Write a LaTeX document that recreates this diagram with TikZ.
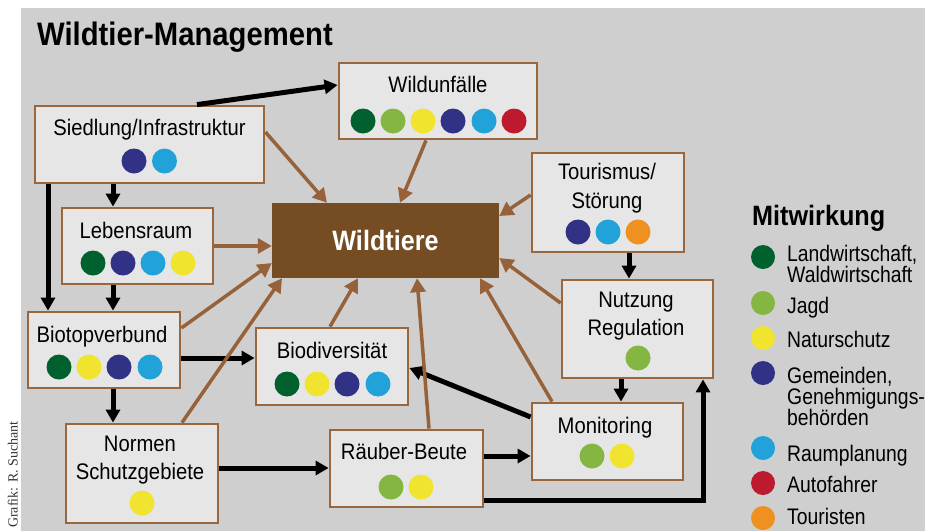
\documentclass[tikz,border=0pt]{standalone}
\usepackage{fontspec}
\setmainfont{Liberation Sans}
\newfontfamily\condfont[FakeStretch=0.9]{Liberation Sans}
\newfontfamily\legfont[FakeStretch=0.86]{Liberation Sans}
\newfontfamily\creditfont{Liberation Serif}
\usetikzlibrary{arrows.meta}

\definecolor{bggray}{HTML}{CFCFCF}
\definecolor{boxfill}{HTML}{E6E6E6}
\definecolor{boxedge}{HTML}{99673D}
\definecolor{corebrown}{HTML}{764C23}
\definecolor{linkbrown}{HTML}{97623A}
\definecolor{cLand}{HTML}{00612F}
\definecolor{cJagd}{HTML}{85B642}
\definecolor{cNatur}{HTML}{F1E42E}
\definecolor{cGem}{HTML}{313186}
\definecolor{cRaum}{HTML}{21A2D8}
\definecolor{cAuto}{HTML}{BE1A2E}
\definecolor{cTour}{HTML}{EE9120}

\tikzset{
  box/.style={draw=boxedge, line width=2.8pt, fill=boxfill, inner sep=0pt},
  core/.style={fill=corebrown, inner sep=0pt},
  lbl/.style={anchor=base, inner sep=0pt, font=\condfont\fontsize{22.5}{27}\selectfont},
  % multi-line entries sit on the baseline of their last line
  legtext/.style={anchor=base west, inner sep=0pt, align=left,
    font=\legfont\fontsize{22.5}{21}\selectfont},
  pdot/.style={circle, inner sep=0pt, minimum size=25pt},
  ldot/.style={circle, inner sep=0pt, minimum size=24pt},
  flow/.style={draw=black, line width=5pt, -{Triangle[length=13pt,width=14pt]}},
  effect/.style={draw=linkbrown, line width=3.5pt, -{Triangle[length=14pt,width=15pt]}}
}

% one coloured participation dot
\newcommand\putdot[4]{\node[pdot, fill=#4] (#1) at (#2,#3) {};}

\begin{document}
\begin{tikzpicture}[x=1pt,y=-1pt]
\useasboundingbox (0,0) rectangle (925,531);
\fill[white] (0,0) rectangle (925,531);
\fill[bggray] (21,8) rectangle (925,531);

% heading and credit
\node[anchor=base west, inner sep=0pt, font=\condfont\bfseries\fontsize{32.5}{36}\selectfont] (title) at (37,45) {Wildtier-Management};
\node[rotate=90, anchor=base west, inner sep=0pt, font=\creditfont\fontsize{14}{16}\selectfont, text=black!80] (credit) at (17.5,528) {Grafik: R. Suchant};

% boxes
\node[box, minimum width=229pt, minimum height=77pt] (sied) at (149.5,144.5) {};
\node[box, minimum width=198pt, minimum height=76pt] (unf)  at (438,101) {};
\node[box, minimum width=151pt, minimum height=76pt] (leb)  at (137.5,246) {};
\node[box, minimum width=152pt, minimum height=76pt] (bio)  at (104,350) {};
\node[box, minimum width=152pt, minimum height=99pt] (norm) at (142,473.5) {};
\node[box, minimum width=152pt, minimum height=99pt] (tour) at (608,202.5) {};
\node[box, minimum width=151pt, minimum height=98pt] (nutz) at (637.5,329) {};
\node[box, minimum width=151pt, minimum height=77pt] (mon)  at (607.5,441.5) {};
\node[box, minimum width=153pt, minimum height=77pt] (raub) at (406.5,468.5) {};
\node[box, minimum width=152pt, minimum height=77pt] (div)  at (332,366.5) {};
\node[core, minimum width=227pt, minimum height=75pt] (wild) at (385.5,240.5) {};

% box labels
\node[lbl] (sied-t) at (149.5,135) {Siedlung/Infrastruktur};
\node[lbl] (unf-t) at (438,92) {Wildunfälle};
\node[lbl] (leb-t) at (136,238) {Lebensraum};
\node[lbl] (bio-t) at (102,342) {Biotopverbund};
\node[lbl] (norm-t1) at (140,451) {Normen};
\node[lbl] (norm-t2) at (140,479) {Schutzgebiete};
\node[lbl] (tour-t1) at (607,179) {Tourismus/};
\node[lbl] (tour-t2) at (607,208) {Störung};
\node[lbl] (nutz-t1) at (636,307) {Nutzung};
\node[lbl] (nutz-t2) at (636,335) {Regulation};
\node[lbl] (mon-t) at (605,433) {Monitoring};
\node[lbl] (raub-t) at (404,459) {Räuber-Beute};
\node[lbl] (div-t) at (332,358) {Biodiversität};
\node[anchor=base, inner sep=0pt, text=white, font=\condfont\bfseries\fontsize{28}{32}\selectfont] (wild-t) at (385.5,250) {Wildtiere};

% participation dots
\putdot{sied-d1}{134}{161}{cGem}
\putdot{sied-d2}{164.5}{161}{cRaum}
\putdot{unf-d1}{363}{121}{cLand}
\putdot{unf-d2}{393}{121}{cJagd}
\putdot{unf-d3}{423}{121}{cNatur}
\putdot{unf-d4}{453}{121}{cGem}
\putdot{unf-d5}{484}{121}{cRaum}
\putdot{unf-d6}{514}{121}{cAuto}
\putdot{leb-d1}{93}{263}{cLand}
\putdot{leb-d2}{123}{263}{cGem}
\putdot{leb-d3}{153}{263}{cRaum}
\putdot{leb-d4}{183}{263}{cNatur}
\putdot{bio-d1}{59}{367}{cLand}
\putdot{bio-d2}{89}{367}{cNatur}
\putdot{bio-d3}{119}{367}{cGem}
\putdot{bio-d4}{150}{367}{cRaum}
\putdot{norm-d1}{142}{503}{cNatur}
\putdot{tour-d1}{578}{232}{cGem}
\putdot{tour-d2}{608}{232}{cRaum}
\putdot{tour-d3}{638}{232}{cTour}
\putdot{nutz-d1}{638}{358}{cJagd}
\putdot{mon-d1}{592}{456}{cJagd}
\putdot{mon-d2}{622}{456}{cNatur}
\putdot{raub-d1}{391}{487}{cJagd}
\putdot{raub-d2}{421}{487}{cNatur}
\putdot{div-d1}{287}{384}{cLand}
\putdot{div-d2}{317}{384}{cNatur}
\putdot{div-d3}{347}{384}{cGem}
\putdot{div-d4}{378}{384}{cRaum}

% black flows between the fields
\draw[flow] ([xshift=47.5pt]sied.north) -- ([yshift=16pt]unf.west);
\draw[flow] ([xshift=-24.5pt]leb.north |- sied.south) -- ([xshift=-24.5pt]leb.north);
\draw[flow] ([xshift=-56pt]bio.north |- sied.south) -- ([xshift=-56pt]bio.north);
\draw[flow] ([xshift=-24.5pt]leb.south) -- ([xshift=-24.5pt]leb.south |- bio.north);
\draw[flow] ([yshift=-8pt]bio.east) -- ([yshift=-8pt]bio.east -| div.west);
\draw[flow] ([xshift=9pt]bio.south) -- ([xshift=9pt]bio.south |- norm.north);
\draw[flow] ([yshift=5.5pt]norm.east) -- ([yshift=5.5pt]norm.east -| raub.west);
\draw[flow] ([yshift=12.5pt]raub.east) -- ([yshift=12.5pt]raub.east -| mon.west);
\draw[flow] ([yshift=24.5pt]mon.west) -- ([yshift=-1.5pt]div.east);
\draw[flow] ([xshift=-16.5pt]nutz.south) -- ([xshift=-16.5pt]nutz.south |- mon.north);
\draw[flow] ([xshift=21pt]tour.south) -- ([xshift=21pt]tour.south |- nutz.north);
\draw[flow] ([yshift=-31.5pt]raub.east) -| ([xshift=65.5pt]nutz.south);

% brown influences on the wildlife
\draw[effect] ([yshift=12.5pt]sied.east) -- ([xshift=-58.5pt]wild.north);
\draw[effect] ([xshift=-12pt]unf.south) -- ([xshift=14.5pt]wild.north);
\draw[effect] ([yshift=7.5pt]tour.west) -- ([yshift=24.5pt]wild.east);
\draw[effect] (leb.east) -- (leb.east -| wild.west);
\draw[effect] ([yshift=22pt]bio.east) -- ([yshift=-22.5pt]wild.west);
\draw[effect] ([xshift=40pt]norm.north) -- ([xshift=-103.5pt]wild.south);
\draw[effect] ([xshift=-2pt]div.north) -- ([xshift=-27.5pt]wild.south);
\draw[effect] ([xshift=22.5pt]raub.north) -- ([xshift=31.5pt]wild.south);
\draw[effect] ([xshift=-55.5pt]mon.north) -- ([xshift=94.5pt]wild.south);
\draw[effect] ([yshift=26pt]nutz.west) -- ([yshift=-17.5pt]wild.east);

% legend
\node[anchor=base west, inner sep=0pt, font=\condfont\bfseries\fontsize{28}{32}\selectfont] (leg-title) at (752,225) {Mitwirkung};
\node[ldot, fill=cLand]  (leg-d1) at (763,257) {};
\node[ldot, fill=cJagd]  (leg-d2) at (763,303) {};
\node[ldot, fill=cNatur] (leg-d3) at (763,338) {};
\node[ldot, fill=cGem]   (leg-d4) at (763,373) {};
\node[ldot, fill=cRaum]  (leg-d5) at (763,448) {};
\node[ldot, fill=cAuto]  (leg-d6) at (763,483) {};
\node[ldot, fill=cTour]  (leg-d7) at (763,518) {};
\node[legtext] (leg-t1) at (787,282) {Landwirtschaft,\\Waldwirtschaft};
\node[legtext] (leg-t2) at (787,313) {Jagd};
\node[legtext] (leg-t3) at (787,347) {Naturschutz};
\node[legtext] (leg-t4) at (787,425) {Gemeinden,\\Genehmigungs-\\behörden};
\node[legtext] (leg-t5) at (787,461) {Raumplanung};
\node[legtext] (leg-t6) at (787,492) {Autofahrer};
\node[legtext] (leg-t7) at (787,524) {Touristen};
\end{tikzpicture}
\end{document}
